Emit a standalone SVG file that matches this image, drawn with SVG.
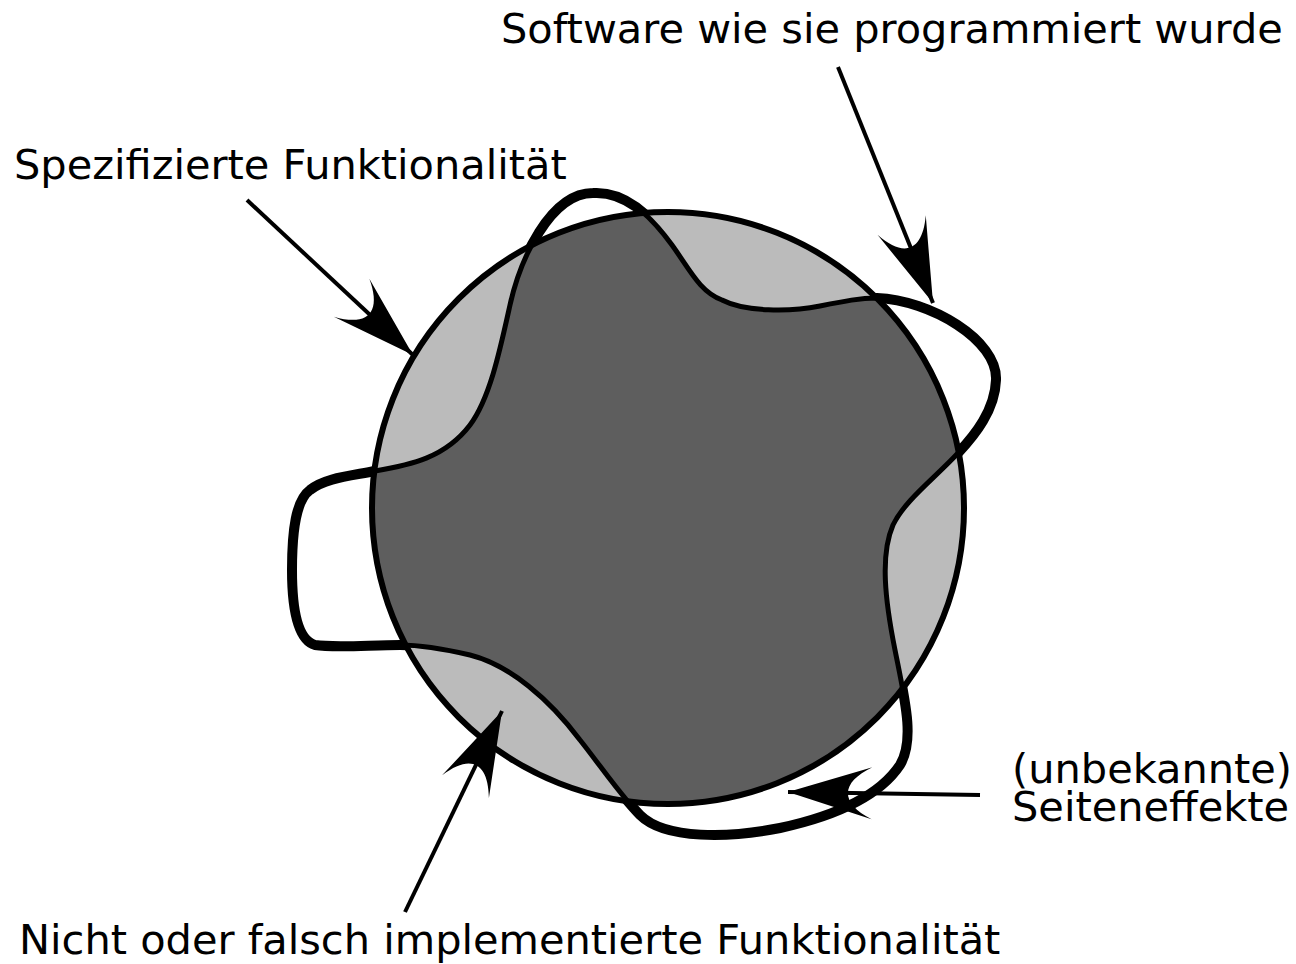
<svg xmlns="http://www.w3.org/2000/svg" xmlns:xlink="http://www.w3.org/1999/xlink" width="1296" height="964" viewBox="0 0 1296 964">
<style>
  text { font-family: "DejaVu Sans", "Liberation Sans", sans-serif; font-size: 41.5px; fill: #000; }
  .conn { stroke: #000; stroke-width: 4; fill: none; }
  .blobThick { fill: none; stroke: #000; stroke-width: 10; stroke-linejoin: round; }
  .blobInner { fill: #5e5e5e; stroke: #000; stroke-width: 5; }
  .circFill { fill: #bbbbbb; stroke: none; }
  .circStroke { fill: none; stroke: #000; stroke-width: 6; }
</style>
<defs>
  <path id="blob" d="M593,193 C625,191 650,215 672,245 C690,270 700,292 722,300 C745,312 790,312 820,306 C845,301 860,298 877,298 C930,300 998,340 996,380 C995,410 975,435 958,453 C935,478 905,500 893,525 C880,555 885,600 895,650 C905,700 915,740 900,765 C880,795 840,815 780,828 C730,838 665,840 640,815 C620,795 600,765 580,740 C550,700 510,665 470,655 C440,648 420,645 400,645 C370,645 335,648 315,645 C298,640 292,610 292,570 C292,530 296,500 310,490 C325,478 350,476 375,471 C410,465 445,458 470,425 C490,398 500,350 510,305 C520,260 550,193 593,193 Z"/>
  <clipPath id="circClip"><circle cx="668" cy="508" r="296"/></clipPath>
  <marker id="arrow" markerUnits="userSpaceOnUse" markerWidth="100" markerHeight="60" viewBox="-90 -30 100 60" refX="0" refY="0" orient="auto" overflow="visible">
    <path d="M0,0 L-84,-26 C-52,-10 -52,10 -84,26 Z" fill="#000"/>
  </marker>
</defs>

<g id="software-outline">
  <use xlink:href="#blob" class="blobThick"/>
</g>
<g id="spec-circle">
  <circle cx="668" cy="508" r="296" class="circFill"/>
</g>
<g id="implemented-area">
  <use xlink:href="#blob" class="blobInner" clip-path="url(#circClip)"/>
</g>
<g id="spec-circle-outline">
  <circle cx="668" cy="508" r="296" class="circStroke"/>
</g>

<g id="connectors">
  <line x1="247" y1="200" x2="413" y2="355" class="conn" marker-end="url(#arrow)"/>
  <line x1="838" y1="67" x2="933" y2="303" class="conn" marker-end="url(#arrow)"/>
  <line x1="405" y1="912" x2="502" y2="711" class="conn" marker-end="url(#arrow)"/>
  <line x1="980" y1="795" x2="788" y2="792" class="conn" marker-end="url(#arrow)"/>
</g>

<g id="label-software"><text x="501" y="43">Software wie sie programmiert wurde</text></g>
<g id="label-spec"><text x="14" y="179">Spezifizierte Funktionalität</text></g>
<g id="label-missing"><text x="19" y="954">Nicht oder falsch implementierte Funktionalität</text></g>
<g id="label-side"><text x="1012" y="783"><tspan x="1012" y="783">(unbekannte)</tspan><tspan x="1012" y="821">Seiteneffekte</tspan></text></g>
</svg>
